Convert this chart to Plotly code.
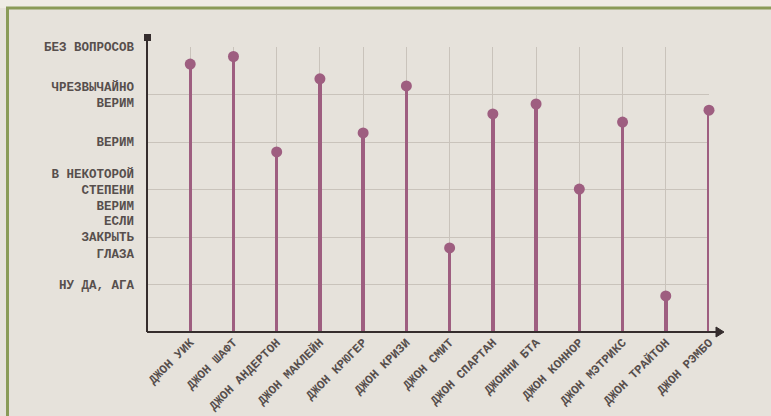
import plotly.graph_objects as go

names = ["ДЖОН УИК", "ДЖОН ШАФТ", "ДЖОН АНДЕРТОН", "ДЖОН МАКЛЕЙН", "ДЖОН КРЮГЕР",
         "ДЖОН КРИЗИ", "ДЖОН СМИТ", "ДЖОН СПАРТАН", "ДЖОННИ БТА", "ДЖОН КОННОР",
         "ДЖОН МЭТРИКС", "ДЖОН ТРАЙТОН", "ДЖОН РЭМБО"]
values = [5.64, 5.80, 3.79, 5.33, 4.19, 5.18, 1.77, 4.59, 4.80, 3.01, 4.42, 0.76, 4.67]
level_values = [1, 2, 3, 4, 5, 6]
level_labels = ["НУ ДА, АГА", "ЕСЛИ<br>ЗАКРЫТЬ<br>ГЛАЗА", "В НЕКОТОРОЙ<br>СТЕПЕНИ<br>ВЕРИМ",
                "ВЕРИМ", "ЧРЕЗВЫЧАЙНО<br>ВЕРИМ", "БЕЗ ВОПРОСОВ"]

x = list(range(len(names)))

W, H = 771, 416
L, R, T, B = 147, 62, 47, 84
pw, ph = W - L - R, H - T - B


def px(v):
    return (v - L) / pw


def py(v):
    return (H - B - v) / ph


stem_col = "#9e5e80"
axis_col = "#352d2d"
grid_col = "#c9c3bb"
txt_col = "#574f4d"
green = "#8a9b58"
font_fam = "Courier New, Liberation Mono, monospace"

fig = go.Figure()
fig.add_trace(go.Bar(x=x, y=values, width=0.08, marker=dict(color=stem_col, line=dict(width=0)),
                     hoverinfo="skip", showlegend=False))
fig.add_trace(go.Scatter(x=x, y=values, mode="markers",
                         marker=dict(color=stem_col, size=11, line=dict(width=0)),
                         showlegend=False, cliponaxis=False))

shapes = [
    dict(type="rect", xref="paper", yref="paper", x0=px(0), x1=px(W), y0=py(8), y1=py(0),
         fillcolor="#efece5", line=dict(width=0), layer="below"),
    dict(type="line", xref="paper", yref="paper", x0=px(6), x1=px(W), y0=py(8), y1=py(8),
         line=dict(color=green, width=3)),
    dict(type="line", xref="paper", yref="paper", x0=px(7.5), x1=px(7.5), y0=py(7), y1=py(H),
         line=dict(color=green, width=3)),
    dict(type="line", xref="paper", yref="paper", x0=0, x1=0, y0=0, y1=py(38),
         line=dict(color=axis_col, width=2)),
    dict(type="rect", xref="paper", yref="paper", x0=px(144), x1=px(151), y0=py(41), y1=py(34),
         fillcolor=axis_col, line=dict(width=0)),
    dict(type="line", xref="paper", yref="paper", x0=0, x1=px(717), y0=0, y1=0,
         line=dict(color=axis_col, width=2)),
    dict(type="path", xref="paper", yref="paper",
         path=f"M {px(716)} {py(327)} L {px(724)} {py(332)} L {px(716)} {py(337)} Z",
         fillcolor=axis_col, line=dict(color=axis_col, width=1)),
]

fig.update_layout(
    width=W, height=H,
    margin=dict(l=L, r=R, t=T, b=B, autoexpand=False),
    paper_bgcolor="#e6e2db",
    plot_bgcolor="rgba(0,0,0,0)",
    font=dict(family=font_fam, color=txt_col, size=12),
    bargap=0,
    shapes=shapes,
    xaxis=dict(range=[-1, 12], tickmode="array", tickvals=x, ticktext=names,
               tickangle=-45, showgrid=True, gridcolor=grid_col, gridwidth=1,
               showline=False, zeroline=False, ticks="", automargin=False,
               ticklabelstandoff=0,
               tickfont=dict(family=font_fam, size=12.2, color=txt_col, weight="bold")),
    yaxis=dict(range=[0, 6], tickmode="array", tickvals=level_values, ticktext=level_labels,
               showgrid=True, gridcolor=grid_col, gridwidth=1, showline=False,
               zeroline=False, ticks="", ticklabelstandoff=12, automargin=False,
               tickfont=dict(family=font_fam, size=12.5, color=txt_col, weight="bold")),
)

fig.write_html("out.html", config={"displayModeBar": False},
               post_script="document.body.style.margin='0';document.body.style.overflow='hidden';")
